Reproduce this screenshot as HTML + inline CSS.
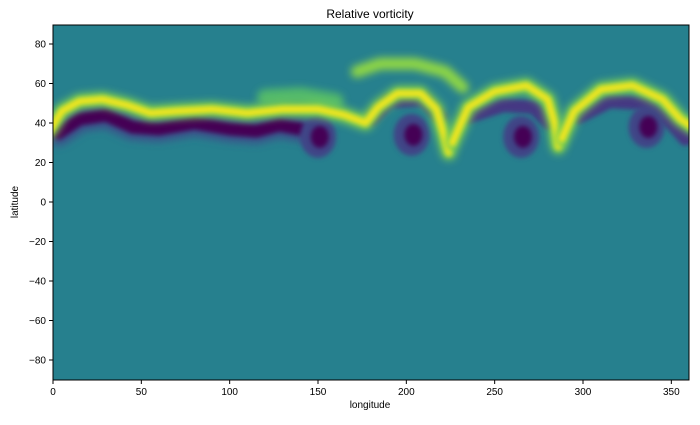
<!DOCTYPE html>
<html><head><meta charset="utf-8"><style>
body{margin:0;background:#fff;font-family:"Liberation Sans",sans-serif;}
svg text{font-family:"Liberation Sans",sans-serif;font-size:10px;fill:#000;}
</style></head><body>
<svg id="chart" width="700" height="420" viewBox="0 0 700 420">
<defs>
<filter id="b4" filterUnits="userSpaceOnUse" x="0" y="0" width="700" height="420"><feGaussianBlur stdDeviation="2.5"/></filter>
<filter id="b6" filterUnits="userSpaceOnUse" x="0" y="0" width="700" height="420"><feGaussianBlur stdDeviation="4"/></filter>
<clipPath id="clip"><rect x="53" y="25" width="636" height="355"/></clipPath>
</defs>
<text x="370" y="18" text-anchor="middle" style="font-size:12px">Relative vorticity</text>
<rect x="53" y="25" width="636" height="355" fill="#26808e"/>
<g id="marks" clip-path="url(#clip)"></g>
<rect x="53" y="25" width="636" height="355" fill="none" stroke="#000" stroke-width="1"/>
<g id="axes"></g>
<text x="370" y="408" text-anchor="middle">longitude</text>
<text transform="translate(18,202) rotate(-90)" text-anchor="middle">latitude</text>
</svg>
<script>
const xTicks=[0,50,100,150,200,250,300,350];
const yTicks=[-80,-60,-40,-20,0,20,40,60,80];
const yellowBand=[[-2,36],[5,46],[15,51],[28,52],[42,49],[55,45],[70,46],[90,47],[110,45],[130,47],[150,47],[165,44],[177,40],[184,48],[195,55],[208,55],[217,47],[221,35],[224,25]];
const yellowBand2=[[226,30],[235,48],[250,56],[268,59],[280,52],[284,40],[286,28]];
const yellowBand3=[[288,32],[295,46],[310,57],[328,59],[345,52],[355,42],[362,38]];
const upperLoop=[[172,66],[185,70],[205,70],[222,66],[232,58]];
const greenTop=[[120,53],[140,54],[160,51]];
const purpleBand=[[3,35],[15,42],[30,44],[45,38],[60,37],[80,40],[100,37],[115,36],[128,39],[140,37]];
const purpleArcs=[[[180,42],[190,51],[210,52],[219,43]],[[234,43],[255,49],[272,48],[281,40]],[[297,43],[315,51],[335,50],[350,40],[358,32]]];
const vortexLon=[150,203,265,336];
const vortexLat=[33,34,33,38];
const X=l=>53+l*636/360, Y=t=>202-t*1.975;
const NS="http://www.w3.org/2000/svg";
const g=document.getElementById('marks'), ax=document.getElementById('axes');
function path(pts,col,w,f,name,op){const p=document.createElementNS(NS,'path');
p.setAttribute('d',pts.map((q,i)=>(i?'L':'M')+X(q[0]).toFixed(1)+','+Y(q[1]).toFixed(1)).join(''));
p.setAttribute('fill','none');p.setAttribute('stroke',col);p.setAttribute('stroke-width',w);
p.setAttribute('stroke-linecap','round');p.setAttribute('stroke-linejoin','round');p.setAttribute('filter',f);
if(op)p.setAttribute('opacity',op);


g.appendChild(p);}
path(greenTop,'#5ec962',16,'url(#b6)','green-band-top',0.8);
path(upperLoop,'#8fd744',12,'url(#b6)','upper-loop');
path(purpleBand,'#3b528b',26,'url(#b6)','purple-band-outer');
path(purpleBand,'#440154',13,'url(#b4)','purple-band');
purpleArcs.forEach(a=>path(a,'#443983',14,'url(#b4)','purple-arc'));
vortexLon.forEach((lo,i)=>{const c=document.createElementNS(NS,'ellipse');
c.setAttribute('cx',X(lo));c.setAttribute('cy',Y(vortexLat[i]));c.setAttribute('rx',18);c.setAttribute('ry',21);
c.setAttribute('fill','#414487');c.setAttribute('filter','url(#b4)');


g.appendChild(c);
const d=document.createElementNS(NS,'ellipse');
d.setAttribute('cx',X(lo+1));d.setAttribute('cy',Y(vortexLat[i]));d.setAttribute('rx',9);d.setAttribute('ry',11);
d.setAttribute('fill','#440154');d.setAttribute('filter','url(#b4)');


g.appendChild(d);});
[yellowBand,yellowBand2,yellowBand3].forEach(b=>{path(b,'#7ad151',15,'url(#b6)','yellow-band-halo');path(b,'#f0e51e',7,'url(#b4)','yellow-band');});
xTicks.forEach(v=>{const l=document.createElementNS(NS,'line');l.setAttribute('x1',X(v));l.setAttribute('x2',X(v));l.setAttribute('y1',380);l.setAttribute('y2',384);l.setAttribute('stroke','#000');


ax.appendChild(l);
const t=document.createElementNS(NS,'text');t.setAttribute('x',X(v));t.setAttribute('y',395);t.setAttribute('text-anchor','middle');t.textContent=v;


ax.appendChild(t);});
yTicks.forEach(v=>{const l=document.createElementNS(NS,'line');l.setAttribute('x1',49);l.setAttribute('x2',53);l.setAttribute('y1',Y(v));l.setAttribute('y2',Y(v));l.setAttribute('stroke','#000');


ax.appendChild(l);
const t=document.createElementNS(NS,'text');t.setAttribute('x',46);t.setAttribute('y',Y(v)+3.5);t.setAttribute('text-anchor','end');t.textContent=v<0?'\u2212'+(-v):v;


ax.appendChild(t);});
</script>
</body></html>
